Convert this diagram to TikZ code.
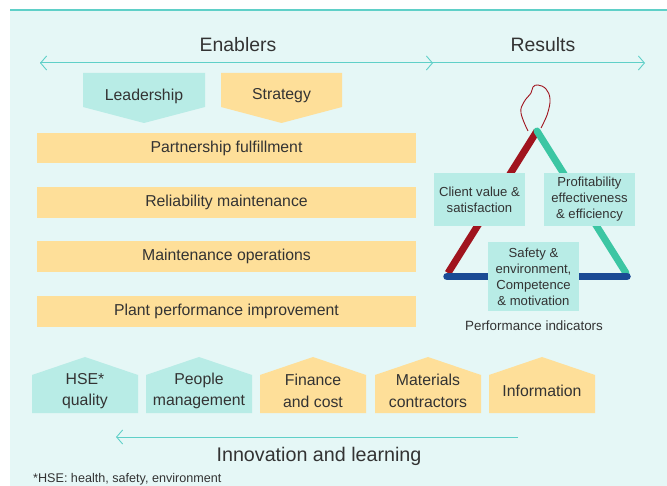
\documentclass[tikz,border=0pt]{standalone}
\usepackage{fontspec}
\setmainfont{Liberation Sans}
\usetikzlibrary{arrows.meta}
\definecolor{bgc}{HTML}{E5F7F6}
\definecolor{tealline}{HTML}{5FD0C8}
\definecolor{tealbox}{HTML}{B8ECE6}
\definecolor{orangebox}{HTML}{FEDF99}
\definecolor{txt}{HTML}{333333}
\definecolor{redbar}{HTML}{A0141E}
\definecolor{greenbar}{HTML}{3CC6A3}
\definecolor{bluebar}{HTML}{1A4A94}
\tikzset{
  lbl/.style={text=txt, font=\fontsize{15.8}{21.5}\selectfont, align=center, inner sep=0pt},
  small/.style={text=txt, font=\fontsize{13.1}{16}\selectfont, align=center, inner sep=0pt},
  hdr/.style={text=txt, font=\fontsize{19.4}{22}\selectfont, inner sep=0pt},
  bar/.style={fill=orangebox, draw=none},
  chev/.style={-{Straight Barb[length=6pt,width=14pt,line width=0.9pt]}, draw=tealline, line width=1pt},
  tribox/.style={fill=tealbox, draw=none, minimum width=91pt, inner sep=0pt},
}
\begin{document}
\begin{tikzpicture}[x=1pt,y=-1pt]
\useasboundingbox (0,0) rectangle (667,486);
\fill[white] (0,0) rectangle (667,486);
\fill[bgc] (10,10) rectangle (667,486);
\draw[tealline, line width=2pt] (10,10) -- (667,10);

% header arrows
\coordinate (lE) at (40,63);
\coordinate (mE) at (433,63);
\coordinate (rR) at (645,63);
\draw[chev] (mE) -- (lE);
\draw[chev] (lE) -- (mE);
\draw[chev] (mE) -- (rR);
\node[hdr] (enab) at (238,45) {Enablers};
\node[hdr] (res) at (543,45) {Results};

% pentagons down
\fill[tealbox] (83,73) -- (205,73) -- (205,107) -- (144,123) -- (83,107) -- cycle;
\node[lbl] (lead) at (144,96) {Leadership};
\fill[orangebox] (221,73) -- (342,73) -- (342,107) -- (281.5,123) -- (221,107) -- cycle;
\node[lbl] (strat) at (281.5,96) {Strategy};

% bars
\fill[bar] (37,133) rectangle (416,163);
\node[lbl] (b1) at (226.5,148) {Partnership fulfillment};
\fill[bar] (37,187) rectangle (416,218);
\node[lbl] (b2) at (226.5,202.5) {Reliability maintenance};
\fill[bar] (37,241) rectangle (416,272);
\node[lbl] (b3) at (226.5,256.5) {Maintenance operations};
\fill[bar] (37,296) rectangle (416,327);
\node[lbl] (b4) at (226.5,311.5) {Plant performance improvement};

% triangle
\coordinate (apex) at (537,131);
\coordinate (bl) at (448,273);
\coordinate (br) at (626,273);
\draw[redbar, line width=0.9pt] plot[smooth, tension=0.7] coordinates {(528,131) (521,113) (524,102) (531,93) (533,87) (538,85) (546,89) (550,99) (548,112) (544,122) (541,128)};
\draw[redbar, line width=7pt, line cap=butt] (bl) -- (apex);
\draw[greenbar, line width=7pt, line cap=round] (apex) -- (br);
\draw[bluebar, line width=7.5pt, line cap=round] (447,276.5) -- (627,276.5);

\node[tribox, minimum height=53pt] (cv) at (479.5,199.5) {};
\node[small] at (cv) {Client value \&\\satisfaction};
\node[tribox, minimum height=53pt] (pf) at (589.5,199.5) {};
\node[small] at (pf) {Profitability\\effectiveness\\\& efficiency};
\node[tribox, minimum height=69pt] (se) at (533.5,276.5) {};
\node[small] at (se) {Safety \&\\environment,\\Competence\\\& motivation};
\node[text=txt, font=\fontsize{13.4}{15}\selectfont, inner sep=0pt] (pi) at (534,326) {Performance indicators};

% houses
\foreach \x/\c/\n in {32/tealbox/h1, 146/tealbox/h2, 260/orangebox/h3, 375/orangebox/h4, 489/orangebox/h5} {
  \fill[\c] (\x,413) -- (\x,375) -- (\x+53,357) -- (\x+106,375) -- (\x+106,413) -- cycle;
}
\node[lbl] (t1) at (85,391) {HSE*\\quality};
\node[lbl] (t2) at (199,391) {People\\management};
\node[lbl] (t3) at (313,391) {Finance\\and cost};
\node[lbl] (t4) at (428,391) {Materials\\contractors};
\node[lbl] (t5) at (542,391) {Information};

% innovation arrow
\coordinate (ia) at (518,437);
\coordinate (ib) at (116,437);
\draw[chev] (ia) -- (ib);
\node[text=txt, font=\fontsize{19.7}{22}\selectfont, inner sep=0pt] (inn) at (319,456) {Innovation and learning};
\node[text=txt, font=\fontsize{12.6}{15}\selectfont, inner sep=0pt, anchor=base west] (fn) at (33,482) {*HSE: health, safety, environment};
\end{tikzpicture}
\end{document}
